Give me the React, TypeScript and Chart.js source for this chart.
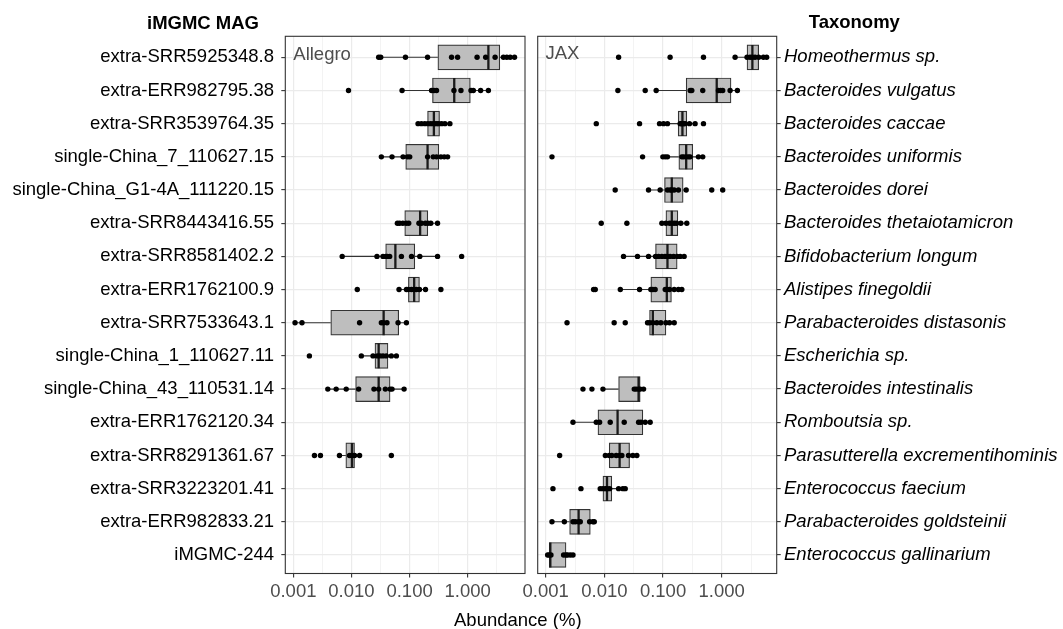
import React, { useEffect, useRef } from "react";
import { Chart, registerables } from "chart.js";

Chart.register(...registerables);

// ---------- data ----------
const magLabels = [
  "extra-SRR5925348.8",
  "extra-ERR982795.38",
  "extra-SRR3539764.35",
  "single-China_7_110627.15",
  "single-China_G1-4A_111220.15",
  "extra-SRR8443416.55",
  "extra-SRR8581402.2",
  "extra-ERR1762100.9",
  "extra-SRR7533643.1",
  "single-China_1_110627.11",
  "single-China_43_110531.14",
  "extra-ERR1762120.34",
  "extra-SRR8291361.67",
  "extra-SRR3223201.41",
  "extra-ERR982833.21",
  "iMGMC-244",
];

const taxonomyLabels = [
  "Homeothermus sp.",
  "Bacteroides vulgatus",
  "Bacteroides caccae",
  "Bacteroides uniformis",
  "Bacteroides dorei",
  "Bacteroides thetaiotamicron",
  "Bifidobacterium longum",
  "Alistipes finegoldii",
  "Parabacteroides distasonis",
  "Escherichia sp.",
  "Bacteroides intestinalis",
  "Romboutsia sp.",
  "Parasutterella excrementihominis",
  "Enterococcus faecium",
  "Parabacteroides goldsteinii",
  "Enterococcus gallinarium",
];

const xTickValues = [0.001, 0.01, 0.1, 1];
const xTickLabels = ["0.001", "0.010", "0.100", "1.000"];

// Allegro panel
const allegroPoints: number[][] = [
  [0.0294, 0.0319, 0.085, 0.204, 0.528, 0.671, 1.45, 2.04, 2.96, 4.12, 4.71, 5.38, 6.39],
  [0.0089, 0.0743, 0.239, 0.262, 0.291, 0.58, 0.766, 1.14, 1.25, 1.67, 2.27],
  [0.14, 0.16, 0.183, 0.207, 0.231, 0.255, 0.272, 0.296, 0.318, 0.356, 0.406, 0.494],
  [0.0327, 0.0499, 0.0773, 0.0918, 0.1007, 0.204, 0.255, 0.291, 0.346, 0.395, 0.451],
  [],
  [0.0617, 0.0674, 0.0766, 0.0875, 0.0968, 0.145, 0.16, 0.187, 0.207, 0.232, 0.303],
  [0.00693, 0.0275, 0.0349, 0.0388, 0.0415, 0.0455, 0.0724, 0.108, 0.15, 0.303, 0.787],
  [0.0126, 0.0659, 0.0883, 0.0955, 0.108, 0.12, 0.131, 0.148, 0.188, 0.346],
  [0.00107, 0.00141, 0.0138, 0.0327, 0.0358, 0.0409, 0.0634, 0.0883],
  [0.00189, 0.0148, 0.0235, 0.0279, 0.031, 0.0349, 0.0398, 0.0486, 0.0593],
  [0.00392, 0.00546, 0.00813, 0.0133, 0.0244, 0.0294, 0.0383, 0.0462, 0.0499, 0.0805],
  [],
  [0.00231, 0.00293, 0.00622, 0.00927, 0.0102, 0.0113, 0.0138, 0.0486],
  [],
  [],
  [],
];
const allegroQ1 = [0.307, 0.248, 0.204, 0.0859, null, 0.0826, 0.0388, 0.0955, 0.00441, 0.0254, 0.0118, null, 0.00801, null, null, null];
const allegroMedian = [2.27, 0.587, 0.262, 0.204, null, 0.152, 0.057, 0.12, 0.0358, 0.0294, 0.0294, null, 0.0102, null, null, null];
const allegroQ3 = [3.57, 1.11, 0.328, 0.319, null, 0.206, 0.123, 0.148, 0.0651, 0.0425, 0.0462, null, 0.0113, null, null, null];
const allegroWhiskerLow = [0.0294, 0.0743, 0.14, 0.0327, null, 0.0617, 0.00693, 0.0659, 0.00107, 0.0148, 0.00392, null, 0.00622, null, null, null];
const allegroWhiskerHigh = [6.39, 2.27, 0.494, 0.451, null, 0.303, 0.303, 0.188, 0.0883, 0.0593, 0.0805, null, 0.0138, null, null, null];

// JAX panel
const jaxPoints: number[][] = [
  [0.0175, 0.132, 0.489, 1.69, 2.7, 3.04, 3.33, 3.7, 4.27, 5.13, 5.84],
  [0.017, 0.0497, 0.0764, 0.29, 0.309, 0.475, 0.879, 0.963, 1.04, 1.39, 1.85],
  [0.00728, 0.0398, 0.0871, 0.102, 0.119, 0.196, 0.205, 0.214, 0.225, 0.238, 0.282, 0.352, 0.489],
  [0.00128, 0.0448, 0.0993, 0.109, 0.119, 0.209, 0.225, 0.248, 0.271, 0.29, 0.401, 0.475],
  [0.0153, 0.0566, 0.0893, 0.119, 0.132, 0.141, 0.155, 0.183, 0.248, 0.676, 1.04],
  [0.00885, 0.0242, 0.0955, 0.112, 0.129, 0.141, 0.155, 0.17, 0.201, 0.254],
  [0.0212, 0.0367, 0.0566, 0.0745, 0.0838, 0.0955, 0.108, 0.119, 0.132, 0.151, 0.174, 0.196, 0.229],
  [0.00656, 0.007, 0.0187, 0.0398, 0.062, 0.067, 0.0734, 0.109, 0.116, 0.129, 0.155, 0.183, 0.209],
  [0.00231, 0.0147, 0.0227, 0.0544, 0.0589, 0.067, 0.0783, 0.0918, 0.112, 0.129, 0.155],
  [],
  [0.00432, 0.00614, 0.00946, 0.0323, 0.0349, 0.0383, 0.0408, 0.0466],
  [0.00292, 0.00728, 0.0083, 0.0126, 0.0218, 0.0383, 0.042, 0.0497, 0.0604],
  [0.00173, 0.0104, 0.0121, 0.0134, 0.0159, 0.0182, 0.0199, 0.0258, 0.0306, 0.0358],
  [0.00133, 0.00399, 0.00851, 0.00946, 0.0104, 0.0111, 0.0123, 0.0175, 0.0207, 0.0227],
  [0.00128, 0.00208, 0.00292, 0.0032, 0.00364, 0.00389, 0.00561, 0.00638, 0.00673],
  [0.00108, 0.00115, 0.00123, 0.00202, 0.00222, 0.00237, 0.00263, 0.00292],
];
const jaxQ1 = [2.7, 0.248, 0.181, 0.186, 0.106, 0.112, 0.0745, 0.062, 0.0589, null, 0.0175, 0.00778, 0.0121, 0.00946, 0.00256, 0.00115];
const jaxMedian = [3.33, 0.822, 0.214, 0.248, 0.141, 0.141, 0.119, 0.116, 0.067, null, 0.0383, 0.0168, 0.0182, 0.0111, 0.00364, 0.0012];
const jaxQ3 = [4.27, 1.44, 0.254, 0.321, 0.22, 0.179, 0.174, 0.139, 0.112, null, 0.0408, 0.0453, 0.0269, 0.0134, 0.00576, 0.00222];
const jaxWhiskerLow = [1.69, 0.0764, 0.102, 0.0993, 0.0566, 0.0955, 0.0212, 0.0187, 0.0544, null, 0.00946, 0.00292, 0.0104, 0.00851, 0.00128, 0.00108];
const jaxWhiskerHigh = [5.84, 1.85, 0.352, 0.475, 0.248, 0.254, 0.229, 0.209, 0.155, null, 0.0466, 0.0604, 0.0358, 0.0227, 0.00673, 0.00292];

// ---------- styling / layout ----------
const FONT = '"Liberation Sans", Arial, Helvetica, sans-serif';
const FS = 18.5;
const AREA_TOP = 36.3;
const AREA_BOTTOM = 573.5;
const CANVAS_H = 629;

type Panel = {
  points: number[][];
  q1: (number | null)[];
  med: (number | null)[];
  q3: (number | null)[];
  wlo: (number | null)[];
  whi: (number | null)[];
  labels: string[];
  side: "left" | "right";
  italic: boolean;
  xMin: number;
  xMax: number;
  canvasW: number;
  areaLeft: number; // within canvas
  areaRight: number; // within canvas
};

const panelBorder = {
  id: "panelBorder",
  afterDatasetsDraw(chart: any) {
    const { ctx, chartArea: a } = chart;
    ctx.save();
    ctx.strokeStyle = "#333333";
    ctx.lineWidth = 1.1;
    ctx.strokeRect(a.left, a.top, a.right - a.left, a.bottom - a.top);
    ctx.restore();
  },
};

function isMajor(v: number) {
  return xTickValues.some((m) => Math.abs(m - v) / m < 1e-6);
}

function zeroPadding(scale: any) {
  scale.paddingLeft = 0;
  scale.paddingRight = 0;
  scale.paddingTop = 0;
  scale.paddingBottom = 0;
}

function buildConfig(p: Panel): any {
  const boxData: any[] = [];
  const whiskerData: any[] = [];
  const medianData: any[] = [];
  const pointData: any[] = [];
  for (let i = 0; i < p.labels.length; i++) {
    const q1 = p.q1[i];
    const q3 = p.q3[i];
    if (q1 != null && q3 != null) {
      boxData.push({ x: [q1, q3], y: i });
      medianData.push({ x: p.med[i], y: i });
      whiskerData.push(
        { x: p.wlo[i], y: i },
        { x: q1, y: i },
        { x: null, y: null },
        { x: q3, y: i },
        { x: p.whi[i], y: i },
        { x: null, y: null }
      );
    }
    p.points[i].forEach((v) => pointData.push({ x: v, y: i }));
  }

  const gridMinor: number[] = xTickValues.map((m) => m * Math.sqrt(10));
  const xTicksAll = [...xTickValues, ...gridMinor].sort((a, b) => a - b);

  return {
    type: "bar",
    data: {
      datasets: [
        {
          type: "line",
          data: whiskerData,
          borderColor: "#333333",
          borderWidth: 1.1,
          pointRadius: 0,
          spanGaps: false,
          fill: false,
          order: 4,
        },
        {
          type: "bar",
          indexAxis: "y",
          data: boxData,
          backgroundColor: "#bebebe",
          borderColor: "#333333",
          borderWidth: 1.2,
          borderSkipped: false,
          barThickness: 25,
          grouped: false,
          order: 3,
        },
        {
          type: "scatter",
          data: medianData,
          pointStyle: "line",
          pointRotation: 90,
          pointRadius: 12.4,
          pointBorderWidth: 2.3,
          pointBorderColor: "#1a1a1a",
          pointBackgroundColor: "#1a1a1a",
          order: 2,
        },
        {
          type: "scatter",
          data: pointData,
          pointRadius: 2.7,
          pointBorderWidth: 0,
          pointBackgroundColor: "#000000",
          order: 1,
        },
      ],
    },
    options: {
      responsive: false,
      animation: false,
      events: [],
      layout: {
        autoPadding: false,
        padding: {
          top: AREA_TOP,
          bottom: 0,
          left: p.side === "left" ? 0 : p.areaLeft,
          right: p.side === "left" ? p.canvasW - p.areaRight : 0,
        },
      },
      plugins: {
        legend: { display: false },
        tooltip: { enabled: false },
        title: { display: false },
      },
      scales: {
        x: {
          type: "logarithmic",
          position: "bottom",
          min: p.xMin,
          max: p.xMax,
          offset: false,
          border: { display: false },
          grid: {
            offset: false,
            color: "#ebebeb",
            lineWidth: (ctx: any) => (ctx.tick && isMajor(ctx.tick.value) ? 1.2 : 0.6),
            drawTicks: true,
            tickLength: 4,
            tickWidth: 1.1,
            tickColor: (ctx: any) => (ctx.tick && isMajor(ctx.tick.value) ? "#333333" : "rgba(0,0,0,0)"),
          },
          ticks: {
            autoSkip: false,
            maxRotation: 0,
            minRotation: 0,
            padding: 3,
            color: "#4d4d4d",
            font: { family: FONT, size: FS },
            callback: (v: any) => {
              const idx = xTickValues.findIndex((m) => Math.abs(m - v) / m < 1e-6);
              return idx >= 0 ? xTickLabels[idx] : "";
            },
          },
          afterBuildTicks: (scale: any) => {
            scale.ticks = xTicksAll.map((v) => ({ value: v, major: isMajor(v) }));
          },
          afterFit: (scale: any) => {
            scale.height = CANVAS_H - AREA_BOTTOM;
            zeroPadding(scale);
          },
        },
        y: {
          type: "linear",
          position: p.side,
          min: -0.633,
          max: 15.558,
          reverse: true,
          offset: false,
          border: { display: false },
          grid: {
            offset: false,
            color: "#ebebeb",
            lineWidth: 1.2,
            drawTicks: true,
            tickLength: 4,
            tickWidth: 1.1,
            tickColor: "#333333",
          },
          ticks: {
            autoSkip: false,
            padding: p.side === "left" ? 7.3 : 3.3,
            color: "#000000",
            font: { family: FONT, size: FS, style: p.italic ? "italic" : "normal" },
            callback: (v: any) => p.labels[Math.round(v)] ?? "",
          },
          afterBuildTicks: (scale: any) => {
            scale.ticks = p.labels.map((_, i) => ({ value: i }));
          },
          afterFit: (scale: any) => {
            scale.width = p.side === "left" ? p.areaLeft : p.canvasW - p.areaRight;
            zeroPadding(scale);
          },
        },
      },
    },
    plugins: [panelBorder],
  };
}

const LEFT_W = 531;
const RIGHT_X = 495;
const RIGHT_W = 1063 - RIGHT_X;

const allegroPanel: Panel = {
  points: allegroPoints,
  q1: allegroQ1,
  med: allegroMedian,
  q3: allegroQ3,
  wlo: allegroWhiskerLow,
  whi: allegroWhiskerHigh,
  labels: magLabels,
  side: "left",
  italic: false,
  xMin: Math.pow(10, -3.138),
  xMax: Math.pow(10, 0.986),
  canvasW: LEFT_W,
  areaLeft: 285.3,
  areaRight: 525,
};

const jaxPanel: Panel = {
  points: jaxPoints,
  q1: jaxQ1,
  med: jaxMedian,
  q3: jaxQ3,
  wlo: jaxWhiskerLow,
  whi: jaxWhiskerHigh,
  labels: taxonomyLabels,
  side: "right",
  italic: true,
  xMin: Math.pow(10, -3.136),
  xMax: Math.pow(10, 0.937),
  canvasW: RIGHT_W,
  areaLeft: 537.7 - RIGHT_X,
  areaRight: 776.7 - RIGHT_X,
};

const textBase: React.CSSProperties = {
  position: "absolute",
  whiteSpace: "nowrap",
  fontFamily: FONT,
  fontSize: FS,
  lineHeight: "20px",
};

export default function App() {
  const leftRef = useRef<HTMLCanvasElement>(null);
  const rightRef = useRef<HTMLCanvasElement>(null);

  useEffect(() => {
    const c1 = new Chart(leftRef.current as HTMLCanvasElement, buildConfig(allegroPanel));
    const c2 = new Chart(rightRef.current as HTMLCanvasElement, buildConfig(jaxPanel));
    return () => {
      c1.destroy();
      c2.destroy();
    };
  }, []);

  return (
    <div
      style={{
        position: "absolute",
        left: 0,
        top: 0,
        width: 1063,
        height: 629,
        background: "#ffffff",
        overflow: "hidden",
      }}
    >
      <canvas
        ref={leftRef}
        width={LEFT_W}
        height={CANVAS_H}
        style={{ position: "absolute", left: 0, top: 0, width: LEFT_W, height: CANVAS_H }}
      />
      <canvas
        ref={rightRef}
        width={RIGHT_W}
        height={CANVAS_H}
        style={{ position: "absolute", left: RIGHT_X, top: 0, width: RIGHT_W, height: CANVAS_H }}
      />
      <div style={{ ...textBase, left: 203, top: 13.2, transform: "translateX(-50%)", fontWeight: "bold", color: "#000" }}>
        iMGMC MAG
      </div>
      <div style={{ ...textBase, left: 854.3, top: 12.2, transform: "translateX(-50%)", fontWeight: "bold", color: "#000" }}>
        Taxonomy
      </div>
      <div style={{ ...textBase, left: 293.3, top: 43.7, color: "#4d4d4d" }}>Allegro</div>
      <div style={{ ...textBase, left: 545.5, top: 43.2, color: "#4d4d4d" }}>JAX</div>
      <div style={{ ...textBase, left: 517.8, top: 609.9, transform: "translateX(-50%)", color: "#000" }}>
        Abundance (%)
      </div>
    </div>
  );
}
